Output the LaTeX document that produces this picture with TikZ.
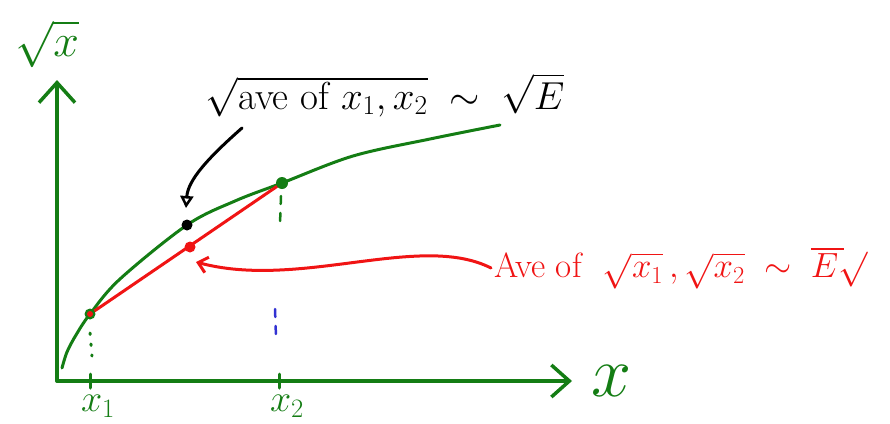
\RequirePackage{fix-cm}
\documentclass[tikz,border=0pt]{standalone}
\usepackage{amsmath, amssymb}
\usepackage{xcolor}
\usetikzlibrary{arrows.meta}
\definecolor{penGreen}{RGB}{20,125,20}
\definecolor{penRed}{RGB}{240,20,20}
\definecolor{penBlue}{RGB}{50,50,210}

\begin{document}
\begin{tikzpicture}[x=1pt, y=-1pt, line cap=round, line join=round]
    \useasboundingbox (0,0) rectangle (890,423);
    \tikzset{
        axis/.style={penGreen, line width=3.5pt},
        curvepen/.style={penGreen, line width=3pt},
        chordpen/.style={penRed, line width=3pt},
        greenlabel/.style={penGreen, font=\fontsize{38}{42}\selectfont, inner sep=1pt},
        guide/.style={line width=2.5pt, dash pattern=on 8pt off 9pt},
    }
    % Axes
    \coordinate (O) at (57,381);
    \coordinate (Ytop) at (57,80);
    \coordinate (Xend) at (572,381);
    \draw[axis, -{Straight Barb[length=20pt, width=36pt, line width=3.5pt]}] (O) -- (Ytop);
    \draw[axis, -{Straight Barb[length=18pt, width=32pt, line width=3.5pt]}] (O) -- (Xend);
    \node[greenlabel, font=\fontsize{72}{78}\selectfont] (xlab) at (612,381) {$x$};
    \node[greenlabel, font=\fontsize{46}{50}\selectfont, inner sep=0pt] (ylab) at (47,44) {$\sqrt{x}$};
    % Ticks and labels
    \draw[axis, line width=3pt] (90,374) -- (90,388);
    \draw[axis, line width=3pt] (279,374) -- (279,388);
    \node[greenlabel] (xone) at (98,406) {$x_1$};
    \node[greenlabel] (xtwo) at (287,406) {$x_2$};
    % Curve and chord
    \coordinate (P1) at (90,314);
    \coordinate (P2) at (282,183);
    \coordinate (M) at (190,247);
    \coordinate (S) at (187,225);
    \draw[curvepen] plot[smooth, tension=0.55] coordinates
        {(62,368) (67,352) (76,335) (P1) (120,279) (S) (235,201) (P2)
         (353,156) (430,139) (500,125)};
    \draw[chordpen] (P1) -- (P2);
    \fill[penGreen] (P1) circle (5.5pt);
    \fill[penGreen] (P2) circle (6pt);
    \fill[penRed] (P1) circle (3pt);
    \fill[penRed] (M) circle (5.5pt);
    \fill[black] (S) circle (5.5pt);
    % Dashed guides
    \draw[guide, penGreen] (281,196) -- (280,224);
    \draw[guide, penGreen, line width=3pt, dash pattern=on 1.5pt off 9.5pt] (90,333) -- (92,356);
    \draw[guide, penBlue] (275,309) -- (276,337);
    % Labels with arrows
    \node[font=\fontsize{39}{44}\selectfont] (ave) at (385,95)
        {$\sqrt{\text{ave of } x_1, x_2}\;\sim\;\sqrt{E}$};
    \node[penRed, font=\fontsize{35}{40}\selectfont] (avesqrt) at (681,268)
        {Ave of \ $\sqrt{x_1}\,,\sqrt{x_2}\;\sim\;\overline{E\,}\!\surd$};
    \coordinate (aveEnd) at (242,128);
    \draw[line width=3pt, -{Triangle[open, length=12pt, width=13pt, line width=2.5pt]}]
        (aveEnd) .. controls (208,158) and (188,180) .. (186,208);
    \draw[penRed, line width=3pt, -{Straight Barb[length=9pt, width=16pt, line width=3pt]}]
        (avesqrt.west) .. controls (420,232) and (300,290) .. (196,262);
\end{tikzpicture}
\end{document}
